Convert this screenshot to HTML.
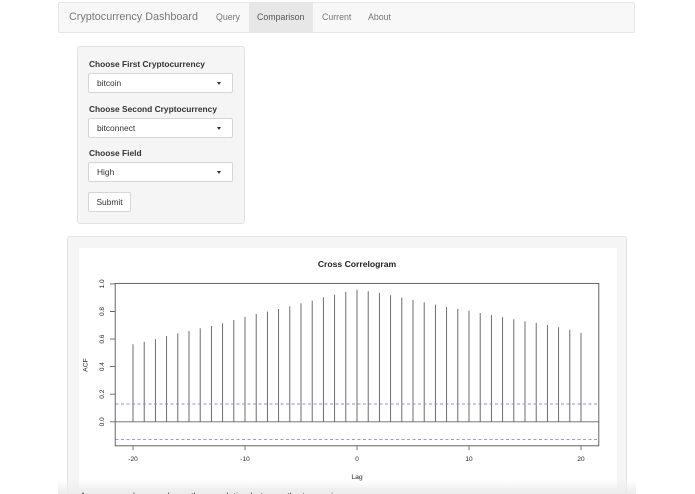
<!DOCTYPE html>
<html><head><meta charset="utf-8"><style>
html,body{margin:0;padding:0;background:#fff;width:695px;height:494px;overflow:hidden;position:relative;font-family:"Liberation Sans",Arial,sans-serif;}
.abs{position:absolute;}
.nav{left:58px;top:2px;width:577px;height:31px;background:#f8f8f8;border:1px solid #e7e7e7;box-sizing:border-box;border-radius:2px;}
.brand{left:69px;top:10px;font-size:10.8px;color:#777;white-space:nowrap;line-height:15px;}
.link{top:11px;font-size:8.8px;color:#777;line-height:13px;white-space:nowrap;}
.active{left:249px;top:3px;width:64px;height:30px;background:#e7e7e7;}
.well{background:#f5f5f5;border:1px solid #e3e3e3;box-sizing:border-box;border-radius:3px;}
.lbl{left:89px;font-size:8.4px;font-weight:bold;color:#333;line-height:12px;white-space:nowrap;}
.sel{left:88px;width:145px;height:20px;background:#fff;border:1px solid #d6d6d6;box-sizing:border-box;border-radius:2px;}
.sel span{position:absolute;left:8px;top:4px;font-size:8.4px;color:#333;line-height:11px;}
.sel i{position:absolute;left:128px;top:8px;width:0;height:0;border-left:2.5px solid transparent;border-right:2.5px solid transparent;border-top:3px solid #333;}
.btn{left:88px;top:192px;width:43px;height:20px;background:#fff;border:1px solid #d6d6d6;box-sizing:border-box;border-radius:2px;font-size:8.4px;color:#333;text-align:center;line-height:18px;}
</style></head><body>
<div class="abs nav"></div>
<div class="abs active"></div>
<div class="abs brand">Cryptocurrency Dashboard</div>
<div class="abs link" style="left:216px">Query</div>
<div class="abs link" style="left:257px;color:#555">Comparison</div>
<div class="abs link" style="left:322px">Current</div>
<div class="abs link" style="left:368px">About</div>

<div class="abs well" style="left:77px;top:46px;width:168px;height:178px"></div>
<div class="abs lbl" style="top:58px">Choose First Cryptocurrency</div>
<div class="abs sel" style="top:73px"><span>bitcoin</span><i></i></div>
<div class="abs lbl" style="top:103px">Choose Second Cryptocurrency</div>
<div class="abs sel" style="top:118px"><span>bitconnect</span><i></i></div>
<div class="abs lbl" style="top:147px">Choose Field</div>
<div class="abs sel" style="top:162px"><span>High</span><i></i></div>
<div class="abs btn">Submit</div>

<div class="abs well" style="left:67px;top:236px;width:560px;height:270px"></div>
<div class="abs" style="left:79px;top:248px;width:538px;height:240px;background:#fff"></div>

<svg class="abs" style="left:0;top:0" width="695" height="494" viewBox="0 0 695 494" xmlns="http://www.w3.org/2000/svg">
<g font-family="Liberation Sans, Arial, sans-serif" fill="#222">
<text x="357" y="267" font-size="8.6" font-weight="bold" text-anchor="middle">Cross Correlogram</text>
<text x="357" y="479" font-size="6.8" text-anchor="middle">Lag</text>
<text transform="rotate(-90 87.5 365)" x="87.5" y="365" font-size="6.8" text-anchor="middle">ACF</text>
<g font-size="6.5" text-anchor="middle">
<text x="133" y="461">-20</text><text x="245" y="461">-10</text><text x="357" y="461">0</text><text x="469" y="461">10</text><text x="581" y="461">20</text>
<text transform="rotate(-90 104 421.8)" x="104" y="421.8">0.0</text>
<text transform="rotate(-90 104 394.2)" x="104" y="394.2">0.2</text>
<text transform="rotate(-90 104 366.6)" x="104" y="366.6">0.4</text>
<text transform="rotate(-90 104 339.1)" x="104" y="339.1">0.6</text>
<text transform="rotate(-90 104 311.5)" x="104" y="311.5">0.8</text>
<text transform="rotate(-90 104 283.9)" x="104" y="283.9">1.0</text>
</g></g>
<g stroke="#666" stroke-width="0.9" fill="none">
<rect x="115.2" y="283.4" width="483.6" height="162.4" stroke="#555"/>
<path d="M133 446v4M245 446v4M357 446v4M469 446v4M581 446v4"/>
<path d="M115 421.8h-5M115 394.2h-5M115 366.6h-5M115 339.1h-5M115 311.5h-5M115 283.9h-5"/>
<path d="M115.2 421.8H598.8"/>
<path stroke="#5e5e5e" d="M133 421.8V344.3M144.2 421.8V341.7M155.4 421.8V339.1M166.6 421.8V336M177.8 421.8V333.3M189 421.8V330.9M200.2 421.8V328.3M211.4 421.8V326M222.6 421.8V323.3M233.8 421.8V320M245 421.8V317M256.2 421.8V314M267.4 421.8V311.6M278.6 421.8V309M289.8 421.8V306.2M301 421.8V303.2M312.2 421.8V300.6M323.4 421.8V297.3M334.6 421.8V294.7M345.8 421.8V291.9M357 421.8V289.6M368.2 421.8V291.2M379.4 421.8V292.9M390.6 421.8V295.2M401.8 421.8V297.6M413 421.8V299.9M424.2 421.8V302.2M435.4 421.8V304.6M446.6 421.8V306.9M457.8 421.8V309M469 421.8V310.7M480.2 421.8V313M491.4 421.8V314.9M502.6 421.8V317.3M513.8 421.8V319.3M525 421.8V321.3M536.2 421.8V322.9M547.4 421.8V325M558.6 421.8V327.3M569.8 421.8V329.7M581 421.8V333"/>
<path stroke="#8c8ce0" stroke-dasharray="3,2.5" d="M115.5 404H598.5M115.5 439.4H598.5"/>
</g>
</svg>
<div class="abs" style="left:58px;top:480px;width:578px;height:14px;background:linear-gradient(to bottom,rgba(236,236,236,0),#ececec)"></div>
<div class="abs" style="left:80px;top:491px;font-size:9px;color:#444;white-space:nowrap;line-height:11px">A cross-correlogram shows the correlation between the two series</div>
</body></html>
